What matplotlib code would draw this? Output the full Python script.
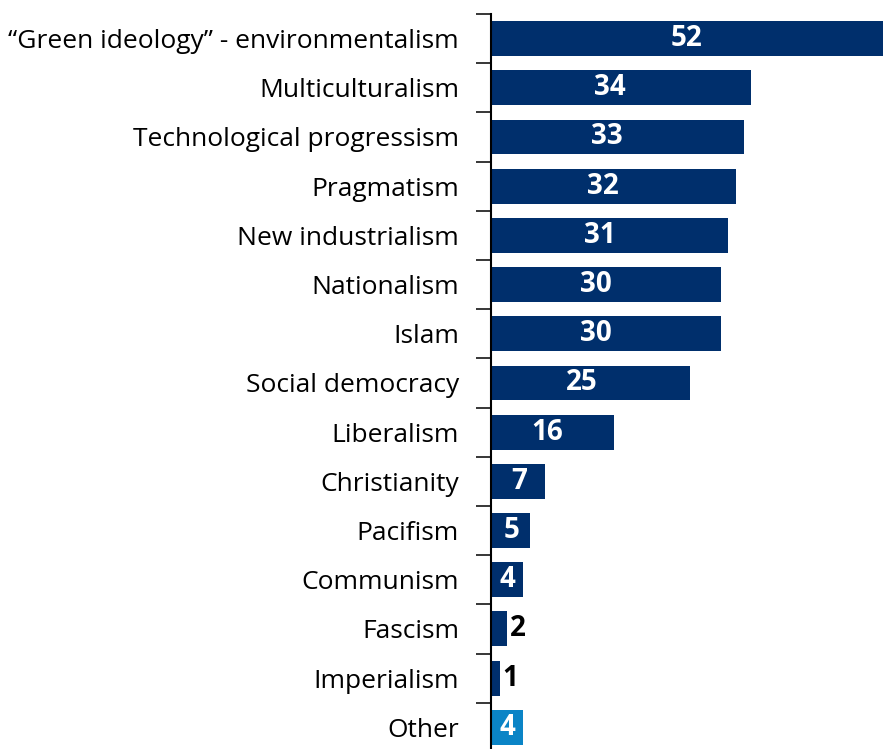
import numpy as np
import matplotlib.pyplot as plt
from matplotlib.ticker import FixedLocator

categories = [
    "\u201cGreen ideology\u201d - environmentalism",
    "Multiculturalism",
    "Technological progressism",
    "Pragmatism",
    "New industrialism",
    "Nationalism",
    "Islam",
    "Social democracy",
    "Liberalism",
    "Christianity",
    "Pacifism",
    "Communism",
    "Fascism",
    "Imperialism",
    "Other",
]
# printed values, and bar lengths as drawn in the original
labels = ["52", "34", "33", "32", "31", "30", "30", "25", "16", "7", "5", "4", "2", "1", "4"]
lengths = [52, 34, 33, 32, 31, 30, 30, 26, 16, 7, 5, 4, 2, 1, 4]

navy = "#002f6c"
light = "#0a84c6"
colors = [navy] * 14 + [light]

plt.rcParams["font.family"] = ["Open Sans", "DejaVu Sans"]

W, H = 883, 749
fig = plt.figure(figsize=(W / 100, H / 100), dpi=100)
ax = fig.add_axes([491 / W, 0, (W - 491) / W, 735 / H])

xmax = (W - 492) / 7.6
y = np.arange(len(categories))
ax.barh(y, lengths, height=0.71, left=0.15, color=colors, zorder=2)

ax.set_xlim(0, xmax)
ax.set_ylim(14.44, -0.5)

# value labels
for yi, v, t in zip(y, lengths, labels):
    if v >= 3:
        if v > xmax:
            xp = xmax / 2
        elif v < 10:
            xp = v / 2 + 0.15
        else:
            xp = v * 0.46
        ax.text(xp, yi, t, ha="center", va="center", color="white",
                fontsize=20, fontweight="bold")
    else:
        ax.text(v + 0.45, yi, t, ha="left", va="center", color="black",
                fontsize=20, fontweight="bold")

# boundary ticks on the axis, category names as minor labels
ax.yaxis.set_major_locator(FixedLocator(np.arange(-0.5, 14, 1)))
ax.yaxis.set_major_formatter(plt.NullFormatter())
ax.yaxis.set_minor_locator(FixedLocator(y))
ax.set_yticklabels(categories, minor=True, fontsize=19)
ax.tick_params(axis="y", which="major", length=11, width=1.1, direction="out")
ax.tick_params(axis="y", which="minor", length=0, pad=23)

ax.set_xticks([])
for s in ["top", "right", "bottom"]:
    ax.spines[s].set_visible(False)
ax.spines["left"].set_linewidth(1.5)
ax.spines["left"].set_zorder(3)

fig.savefig("out.png", dpi=100)
